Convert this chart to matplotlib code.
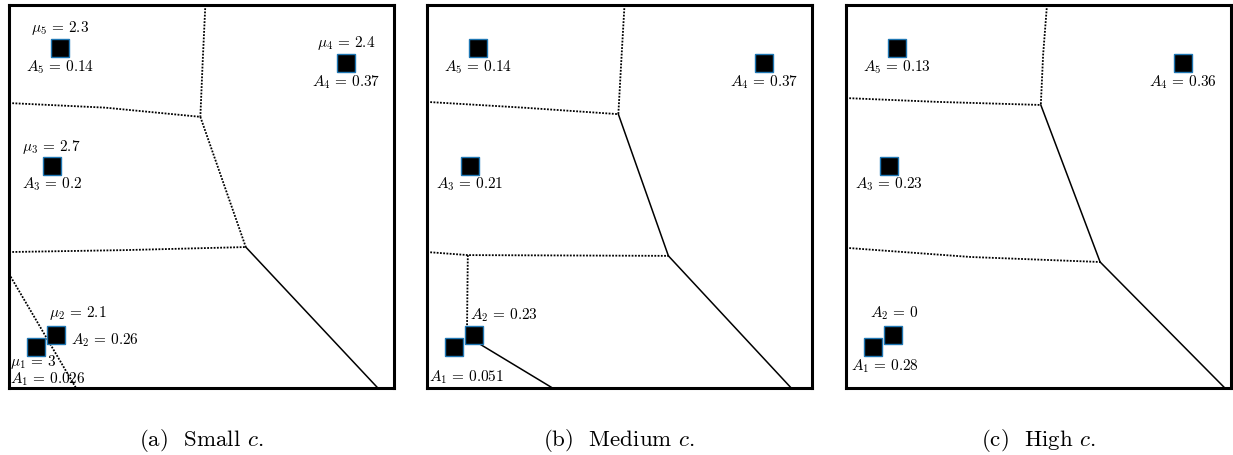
import matplotlib
matplotlib.use("Agg")
import matplotlib.pyplot as plt

plt.rcParams["mathtext.fontset"] = "cm"

# centres of the five squares (same in every panel), axes units 0..1
sq_x = [0.070, 0.122, 0.111, 0.875, 0.133]
sq_y = [0.107, 0.138, 0.580, 0.849, 0.888]

# weights A_i for each panel, mu_i only shown in panel (a)
A_small = ["0.026", "0.26", "0.2", "0.37", "0.14"]
A_medium = ["0.051", "0.23", "0.21", "0.37", "0.14"]
A_high = ["0.28", "0", "0.23", "0.36", "0.13"]
mu_small = ["3", "2.1", "2.7", "2.4", "2.3"]

captions = [r"(a)  Small $c$.", r"(b)  Medium $c$.", r"(c)  High $c$."]

# cell boundaries: (x points, y points, dotted?)
edges_small = [
    ([0.510, 0.503, 0.497], [1.0, 0.85, 0.708], True),
    ([0.0, 0.25, 0.497], [0.744, 0.732, 0.708], True),
    ([0.497, 0.615], [0.708, 0.368], True),
    ([0.0, 0.30, 0.615], [0.355, 0.360, 0.368], True),
    ([0.615, 0.958], [0.368, 0.0], False),
    ([0.0, 0.174], [0.298, 0.0], True),
]
edges_medium = [
    ([0.513, 0.505, 0.497], [1.0, 0.86, 0.715], True),
    ([0.0, 0.25, 0.497], [0.747, 0.732, 0.715], True),
    ([0.497, 0.627], [0.715, 0.345], False),
    ([0.0, 0.106, 0.627], [0.355, 0.347, 0.345], True),
    ([0.106, 0.104, 0.112], [0.347, 0.16, 0.13], True),
    ([0.112, 0.326], [0.13, 0.0], False),
    ([0.627, 0.946], [0.345, 0.0], False),
]
edges_high = [
    ([0.522, 0.512, 0.506], [1.0, 0.87, 0.739], True),
    ([0.0, 0.239, 0.506], [0.757, 0.747, 0.739], True),
    ([0.506, 0.660], [0.739, 0.329], False),
    ([0.0, 0.325, 0.660], [0.366, 0.342, 0.329], True),
    ([0.660, 0.984], [0.329, 0.0], False),
]

# label offsets in pixels from the square centre
off_mu_a = [(-3, -15), (22, 22), (0, 19), (0, 20), (0, 20)]
off_A = {
    "a": [(12, -32), (49, -5), (0, -18), (0, -19), (0, -19)],
    "b": [(13, -30), (30, 20), (0, -18), (0, -19), (0, -19)],
    "c": [(12, -19), (1, 22), (0, -18), (0, -19), (0, -19)],
}

fig = plt.figure(figsize=(12.33, 4.55), dpi=100)
lefts = [9, 427, 846]
panels = [
    ("a", A_small, edges_small),
    ("b", A_medium, edges_medium),
    ("c", A_high, edges_high),
]

for i, (key, A_vals, edges) in enumerate(panels):
    ax = fig.add_axes([lefts[i] / 1233, 67 / 455, 385 / 1233, 383 / 455])
    ax.set_xlim(0, 1)
    ax.set_ylim(0, 1)
    ax.set_xticks([])
    ax.set_yticks([])
    for s in ax.spines.values():
        s.set_linewidth(2.2)

    for xs, ys, dotted in edges:
        if dotted:
            ax.plot(xs, ys, color="black", lw=1.3, ls=(0, (1, 0.8)), zorder=1)
        else:
            ax.plot(xs, ys, color="black", lw=1.1, zorder=1)

    ax.plot(sq_x, sq_y, ls="none", marker="s", ms=12.5, mfc="black",
            mec="#1f77b4", mew=1.0, zorder=3)

    for j in range(5):
        dx, dy = off_A[key][j]
        ax.annotate(r"$A_{%d}\,=\,%s$" % (j + 1, A_vals[j]), (sq_x[j], sq_y[j]),
                    xytext=(dx, dy), textcoords="offset pixels",
                    ha="center", va="center", fontsize=11, zorder=4)
        if key == "a":
            dx, dy = off_mu_a[j]
            ax.annotate(r"$\mu_{%d}\,=\,%s$" % (j + 1, mu_small[j]), (sq_x[j], sq_y[j]),
                        xytext=(dx, dy), textcoords="offset pixels",
                        ha="center", va="center", fontsize=11, zorder=4)

    fig.text((lefts[i] + 192) / 1233, 15 / 455, captions[i], ha="center",
             va="center", fontsize=16.5, family="cmr10")

fig.savefig("out.png", dpi=100)
